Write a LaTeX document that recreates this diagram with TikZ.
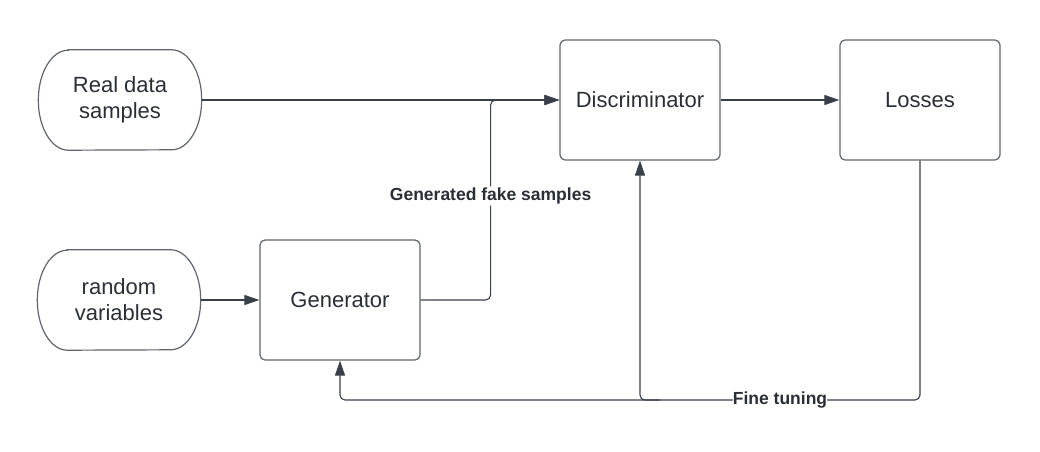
\documentclass[tikz,border=0pt]{standalone}
\usepackage{fontspec}
\setmainfont{Liberation Sans}
\usepackage{xcolor}
\usepackage{tikz}
\usetikzlibrary{positioning,calc,arrows.meta}
\definecolor{linegray}{RGB}{58,64,74}
\definecolor{boxgray}{RGB}{96,100,107}
\definecolor{textgray}{RGB}{42,46,54}
\tikzset{
  box/.style={draw=boxgray, line width=1.2pt, rounded corners=5pt, minimum width=160pt, minimum height=120pt, align=center, text=textgray, font=\fontsize{22}{26}\selectfont},
  term/.style={minimum width=163pt, minimum height=100pt, align=center, text=textgray, font=\fontsize{22}{26}\selectfont},
  conn/.style={draw=linegray, line width=1.1pt, rounded corners=5pt, -{Triangle[length=15pt,width=10pt]}},
  lbl/.style={fill=white, inner sep=1.5pt, text=textgray, font=\bfseries\fontsize{17.5}{20}\selectfont},
}

\begin{document}
\begin{tikzpicture}[x=1pt,y=1pt]
    \useasboundingbox (0,0) rectangle (1040,451);

    \node[term] (real) at (120,351) {Real data\\samples}; % Inputs
    \node[term] (rand) at (119,151) {random\\variables};
    \foreach \n in {real,rand}
      \draw[draw=boxgray, line width=1.2pt] ([xshift=30pt]\n.north west) -- ([xshift=-30pt]\n.north east)
        arc[start angle=90, end angle=-90, x radius=30pt, y radius=50pt] -- ([xshift=30pt]\n.south west)
        arc[start angle=270, end angle=90, x radius=30pt, y radius=50pt] -- cycle;

    \node[box] (gen) at (340,151) {Generator};
    \node[box] (disc) at (640,351) {Discriminator};
    \node[box] (loss) at (920,351) {Losses};

    \draw[conn] (real) -- (disc);
    \draw[conn] (rand) -- (gen);
    \draw[conn] (disc) -- (loss);
    \draw[conn] (gen.east) -- ++(70,0) |- node[lbl, pos=0.26] {Generated fake samples} (disc.west);

    % Feedback loop
    \coordinate (ft) at (gen.south |- 0,51);
    \coordinate (ftd) at (disc.south |- ft);
    \draw[conn] (loss.south) -- (loss.south |- ft) -- node[lbl, inner sep=0pt] {Fine tuning} (ftd) -- (ft) -- (gen.south);
    \draw[conn] ([xshift=20pt]ftd) -- (ftd) -- (disc.south);
\end{tikzpicture}
\end{document}
